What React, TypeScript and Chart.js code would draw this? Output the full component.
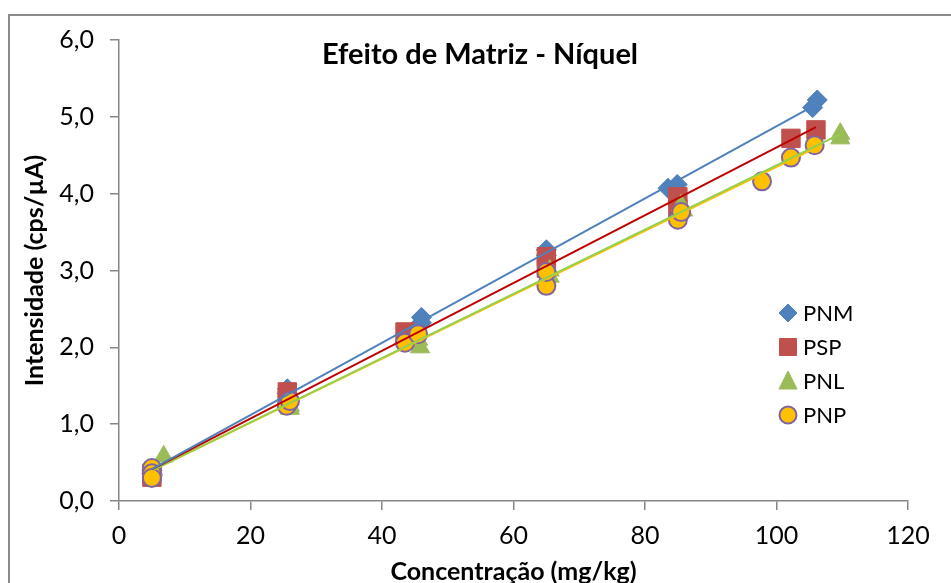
import React, { useEffect, useRef } from 'react';
import { Chart, registerables } from 'chart.js';

Chart.register(...registerables);

const FONT = 'Lato, "Open Sans", sans-serif';

const seriesNames = ['PNM', 'PSP', 'PNL', 'PNP'];
const chartTitle = 'Efeito de Matriz - Níquel';
const xTitle = 'Concentração (mg/kg)';
const yTitle = 'Intensidade (cps/µA)';

const pnmX = [5.0, 5.0, 25.6, 25.6, 46.0, 46.0, 65.0, 65.0, 83.5, 84.9, 105.5, 106.2];
const pnmY = [0.4, 0.36, 1.46, 1.4, 2.39, 2.32, 3.27, 3.2, 4.07, 4.12, 5.12, 5.22];
const pspX = [5.0, 5.0, 25.6, 25.6, 43.5, 44.0, 65.0, 65.0, 85.0, 85.0, 102.2, 106.0];
const pspY = [0.36, 0.31, 1.42, 1.32, 2.2, 2.14, 3.18, 3.03, 3.96, 3.8, 4.72, 4.83];
const pnlX = [6.8, 5.2, 26.0, 26.0, 45.8, 45.5, 65.5, 65.5, 85.5, 85.8, 109.7, 109.7];
const pnlY = [0.58, 0.4, 1.24, 1.2, 2.0, 2.1, 3.0, 2.92, 3.85, 3.78, 4.78, 4.72];
const pnpX = [5.0, 5.0, 5.0, 25.5, 26.0, 43.5, 45.5, 65.0, 65.0, 85.0, 85.5, 97.8, 102.2, 105.8];
const pnpY = [0.43, 0.36, 0.3, 1.24, 1.3, 2.06, 2.17, 2.8, 2.98, 3.66, 3.76, 4.16, 4.47, 4.63];

const xTicks = [0, 20, 40, 60, 80, 100, 120];
const yTicks = [0, 1, 2, 3, 4, 5, 6];

const markerColors = ['#4F81BD', '#C0504D', '#9BBB59', '#FFC000'];
const markerBorders = ['#4F81BD', '#C0504D', '#9BBB59', '#8064A2'];
const markerStyles = ['rectRot', 'rect', 'triangle', 'circle'];
const markerRadii = [10, 13, 11, 9];
const lineColors = ['#4F81BD', '#C00000', '#92D050', '#FFC000'];

function toPoints(xs: number[], ys: number[]) {
  return xs.map((x, i) => ({ x, y: ys[i] }));
}

function trend(xs: number[], ys: number[]) {
  const n = xs.length;
  const mx = xs.reduce((a, b) => a + b, 0) / n;
  const my = ys.reduce((a, b) => a + b, 0) / n;
  let sxy = 0;
  let sxx = 0;
  for (let i = 0; i < n; i++) {
    sxy += (xs[i] - mx) * (ys[i] - my);
    sxx += (xs[i] - mx) * (xs[i] - mx);
  }
  const b = sxy / sxx;
  const a = my - b * mx;
  const lo = Math.min(...xs);
  const hi = Math.max(...xs);
  return [
    { x: lo, y: a + b * lo },
    { x: hi, y: a + b * hi },
  ];
}

const outerBorder = {
  id: 'outerBorder',
  beforeDraw(chart: any) {
    const { ctx } = chart;
    ctx.save();
    ctx.fillStyle = '#ffffff';
    ctx.fillRect(0, 0, chart.width, chart.height);
    ctx.strokeStyle = '#8a8a8a';
    ctx.lineWidth = 2;
    ctx.strokeRect(9, 15, 2000, 2000);
    ctx.restore();
  },
};

function drawMarker(ctx: CanvasRenderingContext2D, i: number, x: number, y: number) {
  ctx.save();
  ctx.fillStyle = markerColors[i];
  ctx.strokeStyle = markerBorders[i];
  ctx.lineWidth = i === 3 ? 2 : 1;
  ctx.beginPath();
  if (i === 0) {
    const r = 9;
    ctx.moveTo(x, y - r);
    ctx.lineTo(x + r, y);
    ctx.lineTo(x, y + r);
    ctx.lineTo(x - r, y);
    ctx.closePath();
  } else if (i === 1) {
    ctx.rect(x - 8.5, y - 8.5, 17, 17);
  } else if (i === 2) {
    ctx.moveTo(x, y - 10);
    ctx.lineTo(x + 9, y + 8);
    ctx.lineTo(x - 9, y + 8);
    ctx.closePath();
  } else {
    ctx.arc(x, y, 8.5, 0, Math.PI * 2);
  }
  ctx.fill();
  ctx.stroke();
  ctx.restore();
}

const overlay = {
  id: 'overlay',
  afterDraw(chart: any) {
    const { ctx } = chart;
    ctx.save();
    ctx.fillStyle = '#000';
    ctx.textAlign = 'center';
    ctx.textBaseline = 'middle';
    ctx.font = `bold 29px ${FONT}`;
    ctx.fillText(chartTitle, 480, 55);
    const rows = [313, 347, 381, 415];
    ctx.font = `22px ${FONT}`;
    ctx.textAlign = 'left';
    rows.forEach((ry, i) => {
      drawMarker(ctx, i, 788, ry);
      ctx.fillStyle = '#000';
      ctx.fillText(seriesNames[i], 803, ry + 1);
    });
    ctx.restore();
  },
};

export default function App() {
  const ref = useRef<HTMLCanvasElement | null>(null);
  useEffect(() => {
    if (!ref.current) return;
    const xsAll = [pnmX, pspX, pnlX, pnpX];
    const ysAll = [pnmY, pspY, pnlY, pnpY];
    const datasets: any[] = [];
    xsAll.forEach((xs, i) => {
      datasets.push({
        label: seriesNames[i] + ' linear',
        data: trend(xs, ysAll[i]),
        showLine: true,
        borderColor: lineColors[i],
        borderWidth: 2,
        pointRadius: 0,
        fill: false,
        order: 0,
      });
    });
    xsAll.forEach((xs, i) => {
      datasets.push({
        label: seriesNames[i],
        data: toPoints(xs, ysAll[i]),
        pointStyle: markerStyles[i],
        pointRadius: markerRadii[i],
        backgroundColor: markerColors[i],
        borderColor: markerBorders[i],
        borderWidth: i === 3 ? 2 : 1,
        showLine: false,
        order: 4 - i,
      });
    });
    const chart = new Chart(ref.current, {
      type: 'scatter',
      data: { datasets },
      plugins: [outerBorder, overlay],
      options: {
        responsive: false,
        animation: false,
        layout: { padding: { top: 26, right: 43, left: 0, bottom: 0 } },
        plugins: { legend: { display: false }, tooltip: { enabled: false }, title: { display: false } },
        scales: {
          x: {
            type: 'linear',
            min: 0,
            max: 120,
            afterBuildTicks: (s: any) => {
              s.ticks = xTicks.map((v) => ({ value: v }));
            },
            ticks: { font: { family: FONT, size: 25 }, color: '#000', padding: 11, callback: (v: any) => String(v) },
            grid: { drawOnChartArea: false, drawTicks: true, tickLength: 9, color: '#868686', lineWidth: 1.5 },
            border: { display: true, color: '#868686', width: 1.5 },
            title: {
              display: true,
              text: xTitle,
              color: '#000',
              font: { family: FONT, size: 25, weight: 'bold' },
              padding: { top: 0, bottom: 13 },
            },
            afterFit: (s: any) => {
              s.height = 99;
            },
          },
          y: {
            type: 'linear',
            min: 0,
            max: 6,
            afterBuildTicks: (s: any) => {
              s.ticks = yTicks.map((v) => ({ value: v }));
            },
            ticks: {
              font: { family: FONT, size: 25 },
              color: '#000',
              padding: 16,
              callback: (v: any) => Number(v).toFixed(1).replace('.', ','),
            },
            grid: { drawOnChartArea: false, drawTicks: true, tickLength: 9, color: '#868686', lineWidth: 1.5 },
            border: { display: true, color: '#868686', width: 1.5 },
            title: {
              display: true,
              text: yTitle,
              color: '#000',
              font: { family: FONT, size: 25, weight: 'bold' },
              padding: { top: 20, bottom: 0 },
            },
            afterFit: (s: any) => {
              s.width = 119;
            },
          },
        },
      } as any,
    });
    for (let k = 0; k < 3; k++) {
      const ca = chart.chartArea;
      const pad: any = (chart.options as any).layout.padding;
      pad.top += 40 - ca.top;
      pad.right += ca.right - 908;
      chart.update();
    }
    return () => chart.destroy();
  }, []);
  return (
    <div style={{ position: 'fixed', left: 0, top: 0, width: 951, height: 583, overflow: 'hidden', background: '#fff' }}>
      <canvas ref={ref} width={951} height={600} style={{ display: 'block', width: 951, height: 600 }} />
    </div>
  );
}
